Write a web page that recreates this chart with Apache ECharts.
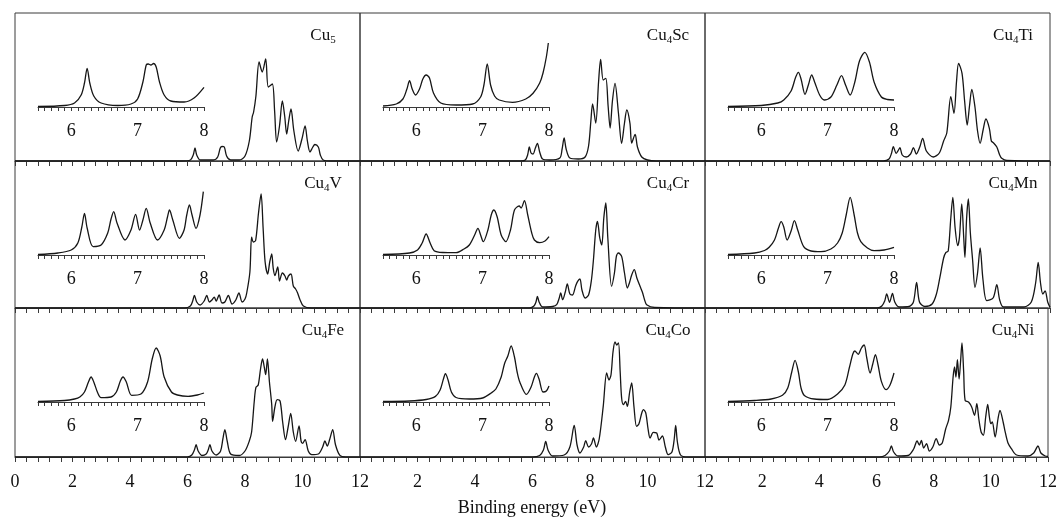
<!DOCTYPE html>
<html><head><meta charset="utf-8">
<script src="https://cdn.jsdelivr.net/npm/echarts@6/dist/echarts.min.js"></script>
<style>html,body{margin:0;padding:0;background:#fff}#c{width:1060px;height:519px}</style>
</head><body><div id="c"></div>
<script>
// ---------- data (x = binding energy in eV, y = intensity in arbitrary units) ----------
const panelNames = ['Cu5','Cu4Sc','Cu4Ti','Cu4V','Cu4Cr','Cu4Mn','Cu4Fe','Cu4Co','Cu4Ni'];
const xAxisTitle = 'Binding energy (eV)';

const cu5Main = [[0,0],[5.8,0],[6.1,1],[6.2,6],[6.26,13],[6.32,6],[6.45,1],[6.9,1],[7.05,4],[7.14,13],[7.2,14.5],[7.28,14],[7.36,5],[7.5,1],[7.8,1],[8.0,5],[8.15,20],[8.25,44],[8.3,49],[8.38,65],[8.49,99],[8.6,89],[8.72,102],[8.81,74],[8.95,77],[9.03,50],[9.1,19],[9.2,35],[9.3,60],[9.38,45],[9.45,27],[9.52,40],[9.6,52],[9.7,30],[9.85,10],[9.98,22],[10.09,35],[10.17,20],[10.26,9],[10.36,14],[10.43,16.5],[10.55,14],[10.62,6],[10.72,1],[11,0],[12,0]];
const cu5Inset = [[5.5,0.5],[5.9,1.5],[6.05,4],[6.15,12],[6.2,24],[6.24,38.7],[6.28,24],[6.34,11],[6.45,4],[6.7,1.5],[6.9,3],[7.0,8],[7.08,25],[7.13,42],[7.16,43],[7.2,42],[7.24,43.5],[7.28,40],[7.33,25],[7.4,12],[7.5,6],[7.7,5],[7.85,9],[8.0,19.7]];

const cu4ScMain = [[0,0],[5.6,0],[5.75,1],[5.83,6],[5.89,14],[5.95,8],[6.02,7],[6.1,13],[6.17,17.7],[6.25,9],[6.35,2],[6.6,1],[6.95,3],[7.03,12],[7.1,23],[7.17,12],[7.3,3],[7.6,2],[7.83,4],[7.95,15],[8.03,40],[8.09,57],[8.2,38],[8.3,80],[8.37,101.7],[8.46,81],[8.55,82.7],[8.63,55],[8.7,33],[8.78,60],[8.87,77.7],[8.99,47.7],[9.1,17.7],[9.2,38],[9.28,51],[9.39,37.7],[9.45,18],[9.57,26.7],[9.65,14],[9.8,4],[10,1],[10.3,0],[12,0]];
const cu4ScInset = [[5.5,1],[5.7,3],[5.8,8],[5.86,18],[5.9,26.3],[5.94,18],[5.99,12],[6.05,18],[6.1,28],[6.15,32],[6.2,29],[6.26,14],[6.37,4],[6.6,2],[6.85,3],[6.97,10],[7.02,22],[7.07,43],[7.12,22],[7.18,11],[7.25,7],[7.45,4.7],[7.65,8],[7.76,13.7],[7.86,24],[7.91,34],[7.96,50],[7.99,64]];

const cu4TiMain = [[0,0],[6.2,0],[6.4,2],[6.49,8],[6.55,14.3],[6.65,7.7],[6.73,11],[6.78,13.3],[6.86,6],[7.0,4],[7.15,7],[7.25,13.3],[7.35,7],[7.47,14],[7.57,22.7],[7.7,10],[7.94,4],[8.15,8],[8.3,20],[8.41,28],[8.55,64.3],[8.66,47.7],[8.75,80],[8.82,97.7],[8.94,87.7],[9.03,60],[9.12,36],[9.2,55],[9.28,71.7],[9.39,54],[9.48,30],[9.57,17.7],[9.68,32],[9.77,42],[9.89,32.7],[9.96,20],[10.03,18.3],[10.15,14],[10.25,6],[10.32,2.7],[10.5,0.5],[12,0]];
const cu4TiInset = [[5.5,0.5],[6.0,1.5],[6.25,4],[6.34,7],[6.45,16],[6.52,30],[6.56,34.7],[6.6,28],[6.66,12.7],[6.71,22],[6.76,32],[6.81,24],[6.88,12],[6.95,7],[7.05,10],[7.14,22],[7.21,31.3],[7.27,22],[7.34,12],[7.41,25],[7.48,46],[7.56,54.7],[7.63,45],[7.7,25],[7.81,10],[7.9,7.5],[8.0,7]];

const cu4VMain = [[0,0],[5.9,0],[6.1,2],[6.18,7],[6.24,12.5],[6.32,6],[6.44,3],[6.58,7],[6.67,12.5],[6.76,6],[6.85,8],[6.93,10.8],[7.0,7],[7.1,13],[7.2,5],[7.3,6],[7.42,12.5],[7.55,4],[7.68,8],[7.79,15],[7.9,6],[8.0,9],[8.06,15],[8.17,36],[8.23,70.8],[8.29,66],[8.37,67.5],[8.47,95],[8.56,114],[8.63,80],[8.7,46],[8.79,34],[8.86,46],[8.93,54],[8.98,40],[9.04,32.5],[9.14,41],[9.2,27],[9.3,35],[9.39,32],[9.45,28],[9.51,32],[9.6,34],[9.68,22],[9.76,19],[9.83,15],[9.91,8.5],[10.03,2],[10.3,0],[12,0]];
const cu4VInset = [[5.5,0.5],[5.8,2],[6.0,5],[6.1,12],[6.16,28],[6.2,41.7],[6.24,27],[6.33,8.4],[6.45,10],[6.55,22],[6.6,36],[6.64,43.4],[6.69,32],[6.81,15],[6.9,25],[6.97,40.7],[7.03,25],[7.08,35],[7.13,46.7],[7.19,32],[7.3,15],[7.4,25],[7.45,38],[7.48,45],[7.53,35],[7.63,16.7],[7.7,25],[7.74,40],[7.78,50],[7.82,40],[7.88,26.7],[7.94,40],[7.99,63.4]];

const cu4CrMain = [[0,0],[5.9,0],[6.05,2],[6.12,6],[6.17,11.6],[6.23,6],[6.35,1],[6.7,1.5],[6.84,3.3],[6.93,10],[6.98,15],[7.05,8.3],[7.14,16],[7.21,24],[7.3,14],[7.39,13],[7.5,22],[7.57,26.7],[7.65,29],[7.72,18],[7.83,10],[7.95,13],[8.05,28],[8.12,48.3],[8.2,78],[8.26,86.7],[8.34,70],[8.41,63],[8.48,90],[8.55,105],[8.62,70],[8.75,21.7],[8.85,35],[8.92,52],[8.99,55],[9.1,51.6],[9.2,35],[9.3,20],[9.37,25],[9.45,33],[9.54,38.3],[9.63,30],[9.74,21.7],[9.82,16],[9.9,8],[9.97,3.3],[10.25,0.5],[12,0]];
const cu4CrInset = [[5.5,0.5],[5.9,2],[6.02,5],[6.09,12],[6.15,21],[6.21,12],[6.27,4.3],[6.4,2.5],[6.6,2.3],[6.72,6],[6.8,10],[6.88,20],[6.93,26.7],[6.97,20],[7.01,13.3],[7.08,25],[7.13,40],[7.17,45],[7.22,38],[7.28,20],[7.35,13.3],[7.42,25],[7.48,45],[7.55,49],[7.58,47],[7.63,54.3],[7.68,40],[7.74,22],[7.78,15],[7.86,12.3],[7.94,14],[8.0,18.3]];

const cu4MnMain = [[0,0],[6.0,0],[6.15,2],[6.25,7],[6.32,14],[6.42,5.7],[6.52,14.6],[6.6,6],[6.75,1],[7.1,1.5],[7.25,6],[7.36,25.6],[7.46,6],[7.65,1.5],[7.9,4],[8.05,14],[8.17,30.6],[8.3,50],[8.38,55.6],[8.46,57],[8.55,90],[8.62,110.6],[8.7,80],[8.79,62.3],[8.85,70.6],[8.93,104],[9.0,70],[9.04,50.6],[9.1,90],[9.16,109],[9.23,75],[9.31,47.3],[9.39,20.6],[9.48,35],[9.57,60],[9.67,28],[9.8,7.3],[10.02,10],[10.15,23.3],[10.25,8],[10.38,1],[11.1,1],[11.35,6],[11.5,25],[11.59,45.6],[11.67,25],[11.75,14],[11.83,17],[11.92,6],[12.0,0.6]];
const cu4MnInset = [[5.5,0.5],[5.9,2],[6.05,4.5],[6.12,7.7],[6.2,15],[6.26,27],[6.3,33.3],[6.34,28],[6.39,15],[6.45,24],[6.5,34.3],[6.55,25],[6.64,8.3],[6.75,4],[6.9,3.3],[7.05,6],[7.15,12],[7.22,22],[7.28,40],[7.34,57.7],[7.4,40],[7.45,22],[7.5,13.3],[7.6,7],[7.7,4.3],[7.85,5],[8.0,7.7]];

const cu4FeMain = [[0,0],[6.0,0],[6.15,2],[6.24,7],[6.3,12.3],[6.37,6],[6.5,1.5],[6.65,3],[6.72,7],[6.78,12.3],[6.85,6],[7.0,2],[7.15,6],[7.23,18],[7.3,27.3],[7.38,16],[7.5,3],[7.8,1.5],[8.0,6],[8.15,16],[8.23,25],[8.32,55],[8.38,69.6],[8.46,72],[8.54,88],[8.61,98],[8.67,90],[8.72,82.3],[8.78,98],[8.85,75],[8.93,52.3],[8.96,35.6],[9.04,50],[9.12,57.3],[9.22,56],[9.31,35],[9.41,17.3],[9.5,30],[9.59,43.6],[9.68,25],[9.76,15.6],[9.88,31],[9.95,16],[10.0,13.6],[10.09,17.3],[10.2,6],[10.32,2.3],[10.55,3],[10.7,10],[10.78,16],[10.86,11],[10.95,18],[11.05,27.3],[11.15,12],[11.3,1.6],[11.5,0],[12,0]];
const cu4FeInset = [[5.5,0.5],[5.9,1.5],[6.05,3],[6.13,5],[6.2,10],[6.26,20],[6.3,25],[6.34,20],[6.4,9],[6.45,4.3],[6.6,5],[6.68,10],[6.74,21],[6.78,25],[6.83,20],[6.91,6.7],[7.05,8],[7.15,20],[7.22,43],[7.28,54],[7.34,46],[7.4,25],[7.51,10],[7.6,7],[7.76,5.7],[7.9,7],[8.0,9]];

const cu4CoMain = [[0,0],[6.0,0],[6.25,1.5],[6.38,7],[6.46,15.6],[6.54,7],[6.7,1],[7.1,2],[7.3,10],[7.45,31.6],[7.55,12],[7.65,4],[7.78,10],[7.85,16.3],[7.95,10],[8.05,13],[8.12,19],[8.22,10],[8.32,18],[8.46,50.6],[8.58,84],[8.66,77],[8.73,82],[8.8,105],[8.87,115],[8.93,112],[8.99,114],[9.05,85],[9.1,59],[9.16,52.3],[9.24,55.6],[9.3,50.6],[9.38,65],[9.45,74],[9.53,50],[9.62,30.6],[9.7,33],[9.8,44],[9.86,47.3],[9.94,44],[10.02,28],[10.09,19],[10.2,24.6],[10.32,24],[10.4,17],[10.52,21],[10.62,10],[10.72,2.3],[10.85,5],[10.93,18],[10.98,31.6],[11.04,15],[11.15,2],[11.4,0],[12,0]];
const cu4CoInset = [[5.5,0.5],[5.9,1],[6.15,2.5],[6.29,5.6],[6.36,12],[6.41,23],[6.44,28.3],[6.48,22],[6.53,10],[6.6,4.5],[6.8,3],[7.0,4],[7.13,9],[7.2,13],[7.28,25],[7.33,38.3],[7.38,46],[7.43,56],[7.48,45],[7.52,30],[7.56,20],[7.66,7.6],[7.73,15],[7.78,25],[7.81,28.6],[7.85,23],[7.91,10],[7.96,11],[8.0,16]];

const cu4NiMain = [[0,0],[6.1,0],[6.3,1.5],[6.45,6],[6.52,11],[6.6,5],[6.75,1],[7.1,1.5],[7.3,8],[7.42,16],[7.5,12],[7.57,16.6],[7.65,9],[7.75,13.3],[7.85,6],[7.97,10],[8.09,18.3],[8.2,12],[8.3,14],[8.42,28],[8.52,36.7],[8.6,50],[8.68,80],[8.73,90],[8.78,80],[8.83,97.3],[8.89,78],[8.94,95],[8.99,114],[9.05,85],[9.1,56.7],[9.22,55],[9.33,50],[9.43,41.7],[9.51,53.3],[9.58,38],[9.66,25],[9.74,21.7],[9.82,40],[9.89,52.6],[9.95,40],[10.0,33.3],[10.05,35],[10.15,20],[10.25,38],[10.32,46.7],[10.43,35],[10.49,26.7],[10.6,14],[10.72,8.3],[10.9,2],[11.3,1],[11.5,4],[11.65,11],[11.75,4],[11.9,1],[12,0.5]];
const cu4NiInset = [[5.5,0.5],[5.9,1.5],[6.15,3],[6.32,6.7],[6.4,14],[6.46,30],[6.51,41.6],[6.56,30],[6.6,14],[6.65,6.6],[6.8,3],[7.0,2.5],[7.15,8],[7.26,17],[7.33,35],[7.38,48],[7.41,51],[7.46,47.7],[7.51,54],[7.55,57],[7.59,44],[7.64,29],[7.68,38],[7.72,47.3],[7.76,37],[7.81,20.6],[7.88,12.3],[7.94,17],[8.0,29]];

const mainData = [cu5Main, cu4ScMain, cu4TiMain, cu4VMain, cu4CrMain, cu4MnMain, cu4FeMain, cu4CoMain, cu4NiMain];
const insetData = [cu5Inset, cu4ScInset, cu4TiInset, cu4VInset, cu4CrInset, cu4MnInset, cu4FeInset, cu4CoInset, cu4NiInset];

// ---------- layout ----------
const colLeft = [15, 360, 705], colW = 345;
const rowTop = [13, 161, 308], rowBottom = [161, 308, 457];
const serif = '"Liberation Serif", "DejaVu Serif", serif';
const ink = '#161616', frame = '#3a3a3a';

const grids = [], xAxes = [], yAxes = [], series = [], graphics = [];

function richName(n) {
  return n.replace(/(\d+)/g, '}{s|$1}{b|').replace(/^/, '{b|') + '}';
}

panelNames.forEach((name, i) => {
  const r = Math.floor(i / 3), c = i % 3;
  const L = colLeft[c], T = rowTop[r], H = rowBottom[r] - rowTop[r];
  grids.push({left: L, top: T, width: colW, height: H, show: true, borderColor: frame, borderWidth: 1, backgroundColor: 'transparent'});
  let gi = grids.length - 1;
  xAxes.push({
    gridIndex: gi, type: 'value', min: 0, max: 12, interval: 2,
    axisLine: {show: true, onZero: false, lineStyle: {color: frame, width: 1}},
    axisTick: {show: true, length: 5, lineStyle: {color: frame}},
    minorTick: {show: true, splitNumber: 5, length: 5, lineStyle: {color: frame}},
    splitLine: {show: false}, minorSplitLine: {show: false},
    axisLabel: {show: r === 2, showMinLabel: c === 0, showMaxLabel: true, margin: 16,
      fontFamily: serif, fontSize: 18, color: '#111'}
  });
  yAxes.push({gridIndex: gi, type: 'value', min: 0, max: H, show: false});
  series.push({type: 'line', xAxisIndex: gi, yAxisIndex: gi, data: mainData[i],
    showSymbol: false, smooth: 0.3, lineStyle: {color: ink, width: 1.3}, silent: true, animation: false});

  const axisY = T + 94, iH = 80;
  grids.push({left: L + 23, top: axisY - iH, width: 166, height: iH, show: false});
  gi = grids.length - 1;
  xAxes.push({
    gridIndex: gi, type: 'value', min: 5.5, max: 8, interval: 0.5,
    axisLine: {show: true, onZero: false, lineStyle: {color: frame, width: 1}},
    axisTick: {show: true, length: 4, lineStyle: {color: frame}},
    minorTick: {show: true, splitNumber: 5, length: 4, lineStyle: {color: frame}},
    splitLine: {show: false}, minorSplitLine: {show: false},
    axisLabel: {show: true, margin: 15, fontFamily: serif, fontSize: 18, color: '#111',
      showMinLabel: true, showMaxLabel: true,
      formatter: v => (Math.abs(v - Math.round(v)) < 1e-6 ? String(Math.round(v)) : '')}
  });
  yAxes.push({gridIndex: gi, type: 'value', min: 0, max: iH, show: false});
  series.push({type: 'line', xAxisIndex: gi, yAxisIndex: gi, data: insetData[i],
    showSymbol: false, smooth: 0.3, lineStyle: {color: ink, width: 1.3}, silent: true, animation: false});

  graphics.push({type: 'text', x: L + 308, y: T + 23, silent: true,
    style: {text: richName(name), align: 'center', verticalAlign: 'middle',
      rich: {b: {fontFamily: serif, fontSize: 17, fill: '#111', lineHeight: 20},
             s: {fontFamily: serif, fontSize: 11, fill: '#111', lineHeight: 20, padding: [9, 0, 0, 0]}}}});
});

graphics.push({type: 'text', x: 532, y: 508, silent: true,
  style: {text: xAxisTitle, align: 'center', verticalAlign: 'middle', font: '18px ' + serif, fill: '#111'}});

const chart = echarts.init(document.getElementById('c'), null, {renderer: 'canvas'});
chart.setOption({
  animation: false, backgroundColor: '#fff',
  grid: grids, xAxis: xAxes, yAxis: yAxes, series: series, graphic: graphics
});
</script></body></html>
